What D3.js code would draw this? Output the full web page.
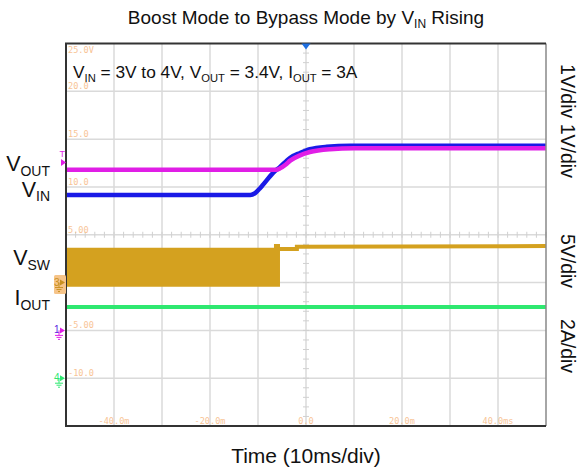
<!DOCTYPE html>
<html>
<head>
<meta charset="utf-8">
<script src="https://cdn.jsdelivr.net/npm/d3@7"></script>
<style>
  body { margin: 0; background: #fff; }
  text { font-family: "Liberation Sans", Arial, sans-serif; }
  .scope-label { font-family: "DejaVu Sans Mono", monospace; font-size: 8.6px; fill: #f8c496; }
</style>
</head>
<body>
<div id="chart"></div>
<script>
// ---- data (time in ms) ----
var vinTime = [-50, -11.6, -10.6, -9.8, -9, -6.9, -5.4, -3.3, -1.25, 0.8, 4.3, 9.2, 50];
var vinVolts = [2.83, 2.83, 2.87, 2.95, 3.04, 3.29, 3.42, 3.61, 3.71, 3.79, 3.84, 3.86, 3.86];

var voutTime = [-50, -6.2, -5.4, -4.2, -3.3, -1.25, 0.8, 5, 10, 50];
var voutVolts = [3.36, 3.36, 3.39, 3.47, 3.55, 3.66, 3.73, 3.79, 3.81, 3.81];

// switching envelope (boost mode) then dc level (bypass)
var vswEnvTime = [-50, -6.67, -6.67, -5.42];
var vswEnvHigh = [3.65, 3.65, 4.03, 4.03];
var vswEnvLow = [-0.43, -0.43, -0.43, -0.43];
var vswTime = [-5.42, -1.9, -1.9, 50];
var vswVolts = [3.51, 3.51, 3.75, 3.82];

var ioutTime = [-50, 50];
var ioutAmps = [2.98, 2.98];

// scope tick labels
var timeTicks = [-40, -20, 0, 20, 40];
var timeTickLabels = ["-40.0m", "-20.0m", "0.0", "20.0m", "40.0ms"];
var voltDivs = [4, 3, 2, 1, 0, -1, -2, -3];
var voltTickLabels = ["25.0V", "20.0", "15.0", "10.0", "5.00", "0.0", "-5.00", "-10.0"];

var svgWidth = 578;
var svgHeight = 471;

var svg = d3.select("#chart")
  .append("svg")
  .attr("width", svgWidth)
  .attr("height", svgHeight);

// plot frame
var plotLeft = 66, plotRight = 546, plotTop = 43.5, plotBottom = 426;

var xScale = d3.scaleLinear().domain([-50, 50]).range([plotLeft, plotRight]);
// y in screen divisions, centre = 0
var yScale = d3.scaleLinear().domain([-4, 4]).range([plotBottom, plotTop]);

// channel setups: offset in divisions, units per division
function chan(offset, perDiv) {
  return function (v) { return yScale(offset + v / perDiv); };
}
var yVin = chan(-2, 1);
var yVout = chan(-2, 1);
var yVsw = chan(-1, 5);
var yIout = chan(-3, 2);

// grid
var grid = svg.append("g");
grid.selectAll(".vgrid")
  .data(d3.range(-40, 41, 10))
  .enter()
  .append("line")
  .attr("x1", d => xScale(d))
  .attr("x2", d => xScale(d))
  .attr("y1", plotTop)
  .attr("y2", plotBottom)
  .attr("stroke", "#dadada")
  .attr("stroke-width", 1.5);

grid.selectAll(".hgrid")
  .data(d3.range(-3, 4, 1))
  .enter()
  .append("line")
  .attr("x1", plotLeft)
  .attr("x2", plotRight)
  .attr("y1", d => yScale(d))
  .attr("y2", d => yScale(d))
  .attr("stroke", "#dadada")
  .attr("stroke-width", 1.5);

// minor ticks on centre lines
grid.selectAll(".xminor")
  .data(d3.range(-50, 50.1, 2))
  .enter()
  .append("line")
  .attr("x1", d => xScale(d))
  .attr("x2", d => xScale(d))
  .attr("y1", yScale(0) - 3)
  .attr("y2", yScale(0) + 3)
  .attr("stroke", "#d0d0d0")
  .attr("stroke-width", 1);

grid.selectAll(".yminor")
  .data(d3.range(-4, 4.01, 0.2))
  .enter()
  .append("line")
  .attr("x1", xScale(0) - 3)
  .attr("x2", xScale(0) + 3)
  .attr("y1", d => yScale(d))
  .attr("y2", d => yScale(d))
  .attr("stroke", "#d0d0d0")
  .attr("stroke-width", 1);

// voltage labels along the left edge
svg.selectAll(".vlabel")
  .data(voltDivs)
  .enter()
  .append("text")
  .attr("class", "scope-label")
  .attr("x", plotLeft + 2)
  .attr("y", (d, i) => i === 0 ? yScale(d) + 9.5 : yScale(d) - 2)
  .text((d, i) => voltTickLabels[i]);

// time labels along the bottom
svg.selectAll(".tlabel")
  .data(timeTicks)
  .enter()
  .append("text")
  .attr("class", "scope-label")
  .attr("x", d => xScale(d))
  .attr("y", plotBottom - 2)
  .attr("text-anchor", "middle")
  .text((d, i) => timeTickLabels[i]);

// traces
function lineOf(xs, ys, yFn, curve) {
  var pts = xs.map((t, i) => [t, ys[i]]);
  return d3.line()
    .x(d => xScale(d[0]))
    .y(d => yFn(d[1]))
    .curve(curve || d3.curveLinear)(pts);
}

var traces = svg.append("g");

var envPts = vswEnvTime.map((t, i) => [t, vswEnvHigh[i], vswEnvLow[i]]);
traces.append("path")
  .attr("d", d3.area()
    .x(d => xScale(d[0]))
    .y0(d => yVsw(d[2]))
    .y1(d => yVsw(d[1]))(envPts))
  .attr("fill", "#d4a11f");

traces.append("path")
  .attr("d", lineOf(vswTime, vswVolts, yVsw))
  .attr("fill", "none")
  .attr("stroke", "#d4a11f")
  .attr("stroke-width", 4);

traces.append("path")
  .attr("d", lineOf(ioutTime, ioutAmps, yIout))
  .attr("fill", "none")
  .attr("stroke", "#2ee870")
  .attr("stroke-width", 4);

traces.append("path")
  .attr("d", lineOf(vinTime, vinVolts, yVin, d3.curveMonotoneX))
  .attr("fill", "none")
  .attr("stroke", "#1a1ae6")
  .attr("stroke-width", 4.5);

traces.append("path")
  .attr("d", lineOf(voutTime, voutVolts, yVout, d3.curveMonotoneX))
  .attr("fill", "none")
  .attr("stroke", "#e01ee6")
  .attr("stroke-width", 4.5);

// frame
svg.append("line").attr("x1", plotRight).attr("x2", plotRight).attr("y1", plotTop).attr("y2", plotBottom)
  .attr("stroke", "#888").attr("stroke-width", 1.5);
svg.append("path")
  .attr("d", `M${plotRight},${plotTop}H${plotLeft}V${plotBottom}H${plotRight}`)
  .attr("fill", "none")
  .attr("stroke", "#333")
  .attr("stroke-width", 2);

// trigger position marker
svg.append("path")
  .attr("d", `M${xScale(0) - 4.5},${plotTop} L${xScale(0) + 4.5},${plotTop} L${xScale(0)},${plotTop + 6} Z`)
  .attr("fill", "#1f6fe0");

// trigger level marker
svg.append("text").attr("x", 59.5).attr("y", 157).attr("font-size", 9).attr("fill", "#e01ee6").text("T");
svg.append("path").attr("d", "M61,159 L66,162.5 L61,166 Z").attr("fill", "#e01ee6");

// ground markers
function groundMark(y, color, label, labelColor) {
  var g = svg.append("g");
  g.append("text").attr("x", 54).attr("y", y + 3).attr("font-size", 10).attr("fill", labelColor).text(label);
  g.append("path").attr("d", `M60,${y - 3} L65,${y} L60,${y + 3} Z`).attr("fill", color);
  g.append("path")
    .attr("d", `M59,${y} V${y + 5} M55,${y + 5} H63 M56.5,${y + 7} H61.5 M58,${y + 9} H60`)
    .attr("stroke", color).attr("stroke-width", 1).attr("fill", "none");
}
svg.append("rect").attr("x", 54).attr("y", 275).attr("width", 12).attr("height", 19)
  .attr("rx", 1.5).attr("fill", "#f6c489");
groundMark(yVsw(0), "#c89020", "3", "#c89020");
groundMark(yVin(0), "#e01ee6", "1", "#5a20e0");
groundMark(yIout(0), "#2ee870", "4", "#2ee870");

// text with subscript helper
function subText(x, y, main, sub, size, anchor) {
  var t = svg.append("text")
    .attr("x", x)
    .attr("y", y)
    .attr("font-size", size)
    .attr("fill", "#111")
    .attr("text-anchor", anchor || "start");
  t.append("tspan").text(main);
  t.append("tspan").attr("font-size", size * 0.65).attr("dy", size * 0.22).text(sub);
  return t;
}

// channel names on the left
subText(50, 171, "V", "OUT", 21.5, "end");
subText(50, 196.5, "V", "IN", 21.5, "end");
subText(50, 265, "V", "SW", 21.5, "end");
subText(50, 305, "I", "OUT", 21.5, "end");

// title
var title = svg.append("text")
  .attr("x", 306)
  .attr("y", 24)
  .attr("text-anchor", "middle")
  .attr("font-size", 19)
  .attr("fill", "#111");
title.append("tspan").text("Boost Mode to Bypass Mode by V");
title.append("tspan").attr("font-size", 12).attr("dy", 4).text("IN");
title.append("tspan").attr("dy", -4).text(" Rising");

// conditions
var cond = svg.append("text")
  .attr("x", 73)
  .attr("y", 78)
  .attr("font-size", 17.3)
  .attr("fill", "#111");
cond.append("tspan").text("V");
cond.append("tspan").attr("font-size", 11.2).attr("dy", 4).text("IN");
cond.append("tspan").attr("dy", -4).text(" = 3V to 4V, V");
cond.append("tspan").attr("font-size", 11.2).attr("dy", 4).text("OUT");
cond.append("tspan").attr("dy", -4).text(" = 3.4V, I");
cond.append("tspan").attr("font-size", 11.2).attr("dy", 4).text("OUT");
cond.append("tspan").attr("dy", -4).text(" = 3A");

// scale labels on the right
var rightLabels = [["1V/div 1V/div", 121], ["5V/div", 261], ["2A/div", 346]];
svg.selectAll(".rlabel")
  .data(rightLabels)
  .enter()
  .append("text")
  .attr("transform", d => `translate(561, ${d[1]}) rotate(90)`)
  .attr("text-anchor", "middle")
  .attr("font-size", 19.5)
  .attr("fill", "#111")
  .text(d => d[0]);

// x axis title
svg.append("text")
  .attr("x", 306)
  .attr("y", 463)
  .attr("text-anchor", "middle")
  .attr("font-size", 21)
  .attr("fill", "#111")
  .text("Time (10ms/div)");
</script>
</body>
</html>
